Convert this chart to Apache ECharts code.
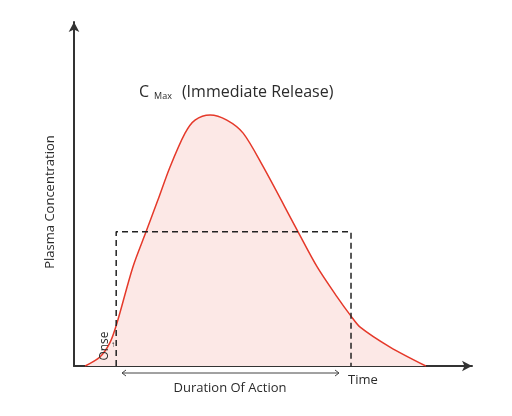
<!DOCTYPE html>
<html lang="en">
<head>
    <meta charset="UTF-8">
    <title>Plasma Concentration</title>
    <script src="https://cdn.jsdelivr.net/npm/echarts@6/dist/echarts.min.js"></script>
    <style>
        html, body { margin: 0; padding: 0; background: #fff; }
    </style>
</head>
<body>
<div id="main" style="width: 512px;height:416px;"></div>

<script>
    // time (x) and concentration (y) along the curve
    const timePoints = [2.8, 6.5, 9.0, 10.8, 14.8, 18.1, 21.1, 24.1, 27.9, 30.4, 34.2, 38.4, 42.5, 47.5, 56.3, 61.1, 66.1, 69.6, 71.9, 79.4, 88.4];
    const concentration = [0, 2.6, 6.7, 12.5, 28.8, 39.0, 48.3, 57.8, 67.7, 71.5, 73.0, 71.5, 67.7, 58.0, 39.0, 28.8, 20.1, 14.5, 11.3, 5.5, 0];

    // duration of action box
    const onsetTime = 10.6;
    const offsetTime = 69.6;
    const effectLevel = 39;

    const titleMain = 'C';
    const titleSub = 'Max';
    const titleRest = '(Immediate Release)';
    const yName = 'Plasma Concentration';
    const xName = 'Time';
    const durationName = 'Duration Of Action';
    const onsetName = 'Onse';

    const font = 'Open Sans';
    const ink = '#2b2b2b';

    let myChart = echarts.init(document.getElementById('main'));
    let option = {
        animation: false,
        title: {
            text: '{m|' + titleMain + '} {s|' + titleSub + '}  {m|' + titleRest + '}',
            left: 134,
            top: 78,
            textStyle: {
                fontWeight: 'normal',
                rich: {
                    m: {fontFamily: font, fontSize: 16, fontWeight: 'normal', color: ink},
                    s: {fontFamily: font, fontSize: 9, fontWeight: 'normal', color: ink, padding: [8, 0, 0, 0]}
                }
            }
        },
        grid: {
            left: 74,
            right: 40,
            top: 22,
            bottom: 50
        },
        xAxis: {
            type: 'value',
            min: 0,
            max: 100,
            axisLine: {
                show: true,
                symbol: ['none', 'arrow'],
                symbolSize: [8, 10],
                lineStyle: {color: '#333', width: 2}
            },
            axisTick: {show: false},
            axisLabel: {show: false},
            splitLine: {show: false}
        },
        yAxis: {
            type: 'value',
            min: 0,
            max: 100,
            axisLine: {
                show: true,
                symbol: ['none', 'arrow'],
                symbolSize: [8, 10],
                lineStyle: {color: '#333', width: 2}
            },
            axisTick: {show: false},
            axisLabel: {show: false},
            splitLine: {show: false}
        },
        series: [
            {
                name: 'curve',
                type: 'line',
                smooth: 0.3,
                symbol: 'none',
                lineStyle: {color: '#e5392a', width: 1.5},
                areaStyle: {color: '#fce8e6', opacity: 1},
                data: timePoints.map((t, i) => [t, concentration[i]]),
                z: 2
            },
            {
                name: 'duration',
                type: 'line',
                symbol: 'none',
                lineStyle: {color: '#222', width: 1.5, type: [6, 4]},
                data: [
                    [onsetTime, 0],
                    [onsetTime, effectLevel],
                    [offsetTime, effectLevel],
                    [offsetTime, 0]
                ],
                z: 3
            }
        ],
        graphic: [
            {
                type: 'text',
                x: 50,
                y: 202,
                rotation: Math.PI / 2,
                style: {
                    text: yName,
                    fontFamily: font,
                    fontSize: 13,
                    fill: ink,
                    align: 'center',
                    verticalAlign: 'middle'
                }
            },
            {
                type: 'text',
                x: 348,
                y: 380,
                style: {
                    text: xName,
                    fontFamily: font,
                    fontSize: 13,
                    fill: ink,
                    align: 'left',
                    verticalAlign: 'middle'
                }
            },
            {
                type: 'text',
                x: 230,
                y: 388,
                style: {
                    text: durationName,
                    fontFamily: font,
                    fontSize: 13,
                    fill: ink,
                    align: 'center',
                    verticalAlign: 'middle'
                }
            },
            {
                type: 'text',
                x: 105,
                y: 346,
                rotation: Math.PI / 2,
                style: {
                    text: onsetName,
                    fontFamily: font,
                    fontSize: 12,
                    fill: ink,
                    align: 'center',
                    verticalAlign: 'middle'
                },
                z: 10
            },
            {
                type: 'text',
                x: 113,
                y: 345,
                style: {
                    text: '\u2191',
                    fontFamily: font,
                    fontSize: 8,
                    fill: ink,
                    align: 'center',
                    verticalAlign: 'middle'
                },
                z: 10
            },
            {
                type: 'polyline',
                shape: {points: [[122, 373], [339, 373]]},
                style: {stroke: '#444', lineWidth: 1}
            },
            {
                type: 'polyline',
                shape: {points: [[126, 370], [122, 373], [126, 376]]},
                style: {stroke: '#444', lineWidth: 1, fill: null}
            },
            {
                type: 'polyline',
                shape: {points: [[335, 370], [339, 373], [335, 376]]},
                style: {stroke: '#444', lineWidth: 1, fill: null}
            }
        ]
    };
    myChart.setOption(option);
</script>
</body>
</html>
